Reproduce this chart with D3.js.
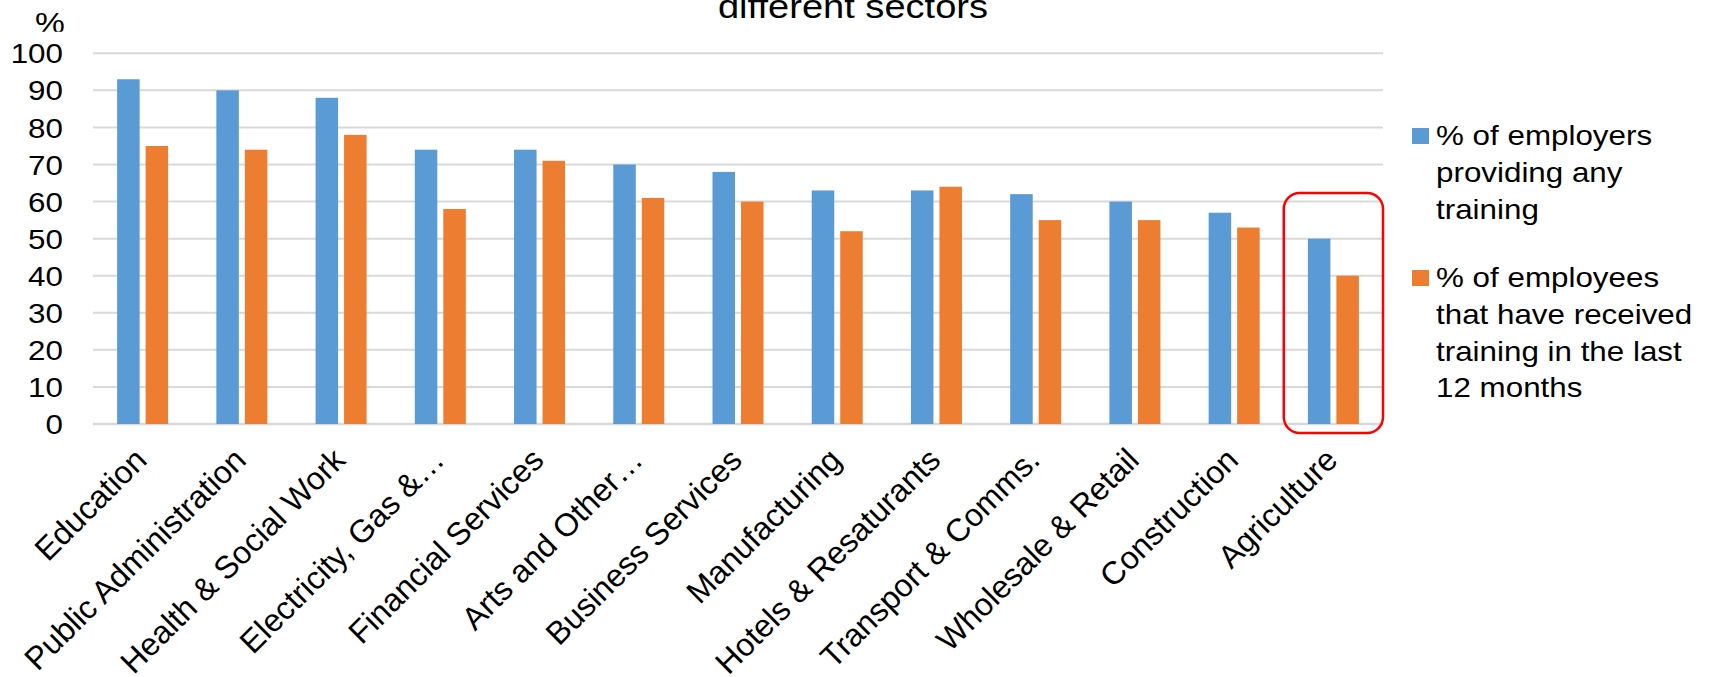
<!DOCTYPE html>
<html>
<head>
<meta charset="utf-8">
<script src="https://cdn.jsdelivr.net/npm/d3@7"></script>
<style>
  html, body { margin: 0; padding: 0; background: #fff; }
  svg { display: block; }
  text { font-family: "Liberation Sans", Arial, sans-serif; fill: #000; }
</style>
</head>
<body>
<svg id="chart" width="1711" height="677"></svg>
<script>
// Sectors, in the order they are plotted
const sectors = [
  "Education", "Public Administration", "Health & Social Work", "Electricity, Gas &\u2026",
  "Financial Services", "Arts and Other\u2026", "Business Services", "Manufacturing",
  "Hotels & Resaturants", "Transport & Comms.", "Wholesale & Retail", "Construction", "Agriculture"
];
// % of employers providing any training
const employersTraining = [93, 90, 88, 74, 74, 70, 68, 63, 63, 62, 60, 57, 50];
// % of employees that have received training in the last 12 months
const employeesTrained = [75, 74, 78, 58, 71, 61, 60, 52, 64, 55, 55, 53, 40];

const seriesNames = [
  ["% of employers", "providing any", "training"],
  ["% of employees", "that have received", "training in the last", "12 months"]
];
const seriesColors = ["#5B9BD5", "#ED7D31"];
const yTicks = [0, 10, 20, 30, 40, 50, 60, 70, 80, 90, 100];
const titleLine = "different sectors";
const highlighted = "Agriculture";

const svg = d3.select("#chart");
const plot = { left: 93, right: 1383, top: 53.3, bottom: 424 };
const fontSize = 28;
const stretch = 1.12;

const x0 = d3.scaleBand().domain(sectors).range([plot.left, plot.right])
  .paddingInner(0.486).paddingOuter(0.243);
const x1 = d3.scaleBand().domain([0, 1]).range([0, x0.bandwidth()]).paddingInner(0.21);
const y = d3.scaleLinear().domain([0, 100]).range([plot.bottom, plot.top]);

// Gridlines
svg.append("g").selectAll("line").data(yTicks).join("line")
  .attr("x1", plot.left).attr("x2", plot.right)
  .attr("y1", d => y(d)).attr("y2", d => y(d))
  .attr("stroke", "#D9D9D9")
  .attr("stroke-width", d => d === 0 ? 2.6 : 2);

// Y tick labels
svg.append("g").selectAll("text").data(yTicks).join("text")
  .attr("transform", d => `translate(63,${y(d)}) scale(${stretch},1)`)
  .attr("text-anchor", "end").attr("dy", "0.36em")
  .style("font-size", fontSize + "px")
  .text(d => d);

// Y axis unit, clipped at its base
svg.append("clipPath").attr("id", "unitClip")
  .append("rect").attr("x", 0).attr("y", 0).attr("width", 90).attr("height", 31.7);
svg.append("g").attr("clip-path", "url(#unitClip)")
  .append("text")
  .attr("transform", `translate(50,33) scale(${stretch},1)`)
  .attr("text-anchor", "middle")
  .style("font-size", "30px")
  .text("%");

// Title (second line visible at the top edge)
svg.append("text")
  .attr("transform", `translate(853,18) scale(${stretch},1)`)
  .attr("text-anchor", "middle")
  .style("font-size", "34px")
  .text(titleLine);

// Bars
const rows = sectors.map((s, i) => ({ sector: s, values: [employersTraining[i], employeesTrained[i]] }));
const groups = svg.append("g").selectAll("g").data(rows).join("g")
  .attr("transform", d => `translate(${x0(d.sector)},0)`);
groups.selectAll("rect").data(d => d.values.map((v, k) => ({ v, k }))).join("rect")
  .attr("x", d => x1(d.k))
  .attr("width", x1.bandwidth())
  .attr("y", d => y(d.v))
  .attr("height", d => y(0) - y(d.v))
  .attr("fill", d => seriesColors[d.k]);

// Category labels, rotated
svg.append("g").selectAll("text").data(sectors).join("text")
  .attr("transform", d => `translate(${x0(d) + x0.bandwidth() / 2 - 2},${plot.bottom + 30}) rotate(-45)`)
  .attr("text-anchor", "end")
  .attr("dy", "0.35em")
  .style("font-size", "32px")
  .text(d => d);

// Highlight box round the last category
const hx = x0(highlighted) - x0.step() * x0.paddingInner() / 2;
svg.append("rect")
  .attr("x", hx).attr("y", 193)
  .attr("width", x0.step()).attr("height", 240)
  .attr("rx", 16).attr("ry", 16)
  .attr("fill", "none").attr("stroke", "#FF0000").attr("stroke-width", 2.5);

// Legend
const legendTops = [145, 287];
const lineGap = 36.8;
seriesNames.forEach((lines, k) => {
  const g = svg.append("g");
  g.append("rect")
    .attr("x", 1412).attr("y", legendTops[k] - 17)
    .attr("width", 17).attr("height", 16)
    .attr("fill", seriesColors[k]);
  g.selectAll("text").data(lines).join("text")
    .attr("transform", (d, i) => `translate(1436,${legendTops[k] + i * lineGap}) scale(${stretch},1)`)
    .style("font-size", fontSize + "px")
    .text(d => d);
});
</script>
</body>
</html>
